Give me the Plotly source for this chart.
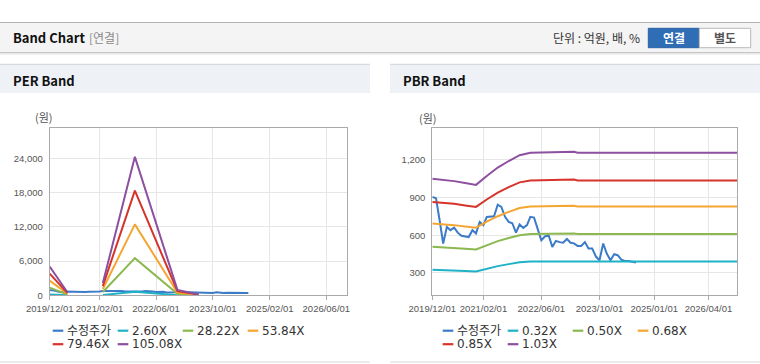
import plotly.graph_objects as go
import pandas as pd

W, H = 760, 364

# ---------------- data ----------------
price = [905, 893, 715, 534, 666, 640, 660, 620, 595, 590, 585, 640, 614, 705, 680, 745,
         746, 750, 842, 825, 746, 706, 695, 620, 685, 658, 680, 746, 740, 650, 560, 590,
         600, 507, 555, 545, 540, 570, 540, 535, 515, 515, 545, 494, 494, 430, 401, 534,
         454, 401, 449, 441, 405, 395, 395, 388, 383]
price_start = "2019-12-01"

per_dates = ["2019-12-01", "2020-05-01", "2020-10-01", "2021-03-01", "2021-12-01", "2022-12-01", "2023-06-01"]
per_names = ["2.60X", "28.22X", "53.84X", "79.46X", "105.08X"]
per_260 = [125, 13, None, 53, 600, 23, 4]
per_2822 = [1352, 141, None, 573, 6513, 254, 42]
per_5384 = [2579, 269, None, 1093, 12426, 485, 81]
per_7946 = [3806, 397, None, 1613, 18339, 715, 119]
per_10508 = [5033, 525, None, 2133, 24253, 946, 158]

pbr_dates = ["2019-12-01", "2020-03-01", "2020-06-01", "2020-09-01", "2020-12-01", "2021-03-01",
             "2021-06-01", "2021-09-01", "2021-12-01", "2022-03-01", "2022-06-01", "2022-09-01",
             "2022-10-01", "2023-03-01", "2023-04-01", "2026-11-28"]
pbr_names = ["0.32X", "0.50X", "0.68X", "0.85X", "1.03X"]
pbr_032 = [325, 323, 320, 315, 311, 333, 354, 370, 384, 390, 390, 391, 392, 392, 390, 390]
pbr_050 = [509, 505, 500, 493, 486, 520, 553, 578, 600, 609, 610, 611, 613, 613, 609, 609]
pbr_068 = [692, 687, 680, 670, 660, 707, 751, 785, 816, 828, 830, 830, 834, 834, 828, 828]
pbr_085 = [864, 859, 850, 837, 825, 884, 939, 982, 1020, 1035, 1037, 1038, 1042, 1042, 1035, 1035]
pbr_103 = [1048, 1040, 1030, 1015, 1000, 1071, 1138, 1190, 1236, 1255, 1257, 1258, 1263, 1263, 1255, 1255]

price_name = "수정주가"
x_range = ["2019-12-01", "2026-11-28"]
per_tickvals = ["2019-12-01", "2021-02-01", "2022-06-01", "2023-10-01", "2025-02-01", "2026-06-01"]
pbr_tickvals = ["2019-12-01", "2021-02-01", "2022-06-01", "2023-10-01", "2025-01-01", "2026-04-01"]
per_yticks = [0, 6000, 12000, 18000, 24000]
pbr_yticks = [300, 600, 900, 1200]

colors = ["#3b7bc8", "#1fb2c6", "#8cb850", "#f5a531", "#d6332b", "#8d4f9f"]

price_dates = pd.date_range(price_start, periods=len(price), freq="MS")

# ---------------- figure ----------------
fig = go.Figure()

def add_line(x, y, color, xa, ya, name):
    fig.add_trace(go.Scatter(x=x, y=y, mode="lines", name=name, showlegend=False,
                             line=dict(color=color, width=2), xaxis=xa, yaxis=ya,
                             connectgaps=False, hoverinfo="skip"))

per_series = [per_260, per_2822, per_5384, per_7946, per_10508]
pbr_series = [pbr_032, pbr_050, pbr_068, pbr_085, pbr_103]

add_line(price_dates, price, colors[0], "x", "y", price_name)
for i, s in enumerate(per_series):
    add_line(per_dates, s, colors[i + 1], "x", "y", per_names[i])

add_line(price_dates, price, colors[0], "x2", "y2", price_name)
for i, s in enumerate(pbr_series):
    add_line(pbr_dates, s, colors[i + 1], "x2", "y2", pbr_names[i])

def X(px):
    return px / W

def Y(py):
    return 1 - py / H

tickfont = dict(family="Liberation Sans, Arial, sans-serif", size=9.5, color="#555555")
axis_common = dict(showgrid=True, gridcolor="#e6e6e6", gridwidth=1, showline=True,
                   linecolor="#aaaaaa", linewidth=1, mirror=True, zeroline=False,
                   tickfont=tickfont, fixedrange=True, automargin=False, tickangle=0)

y_dom = [Y(295.3), Y(128.3)]
fig.update_layout(
    width=W, height=H, margin=dict(l=0, r=0, t=0, b=0, autoexpand=False),
    paper_bgcolor="white", plot_bgcolor="white", showlegend=False,
    xaxis=dict(domain=[X(49.7), X(347.3)], anchor="y", type="date", range=x_range,
               tickvals=per_tickvals, ticktext=[d.replace("-", "/") for d in per_tickvals],
               ticks="outside", ticklen=4, tickcolor="#aaaaaa", **axis_common),
    yaxis=dict(domain=y_dom, anchor="x", range=[0, 29250], tickvals=per_yticks,
               ticktext=[f"{v:,}" for v in per_yticks], ticks="outside", ticklen=4,
               tickcolor="rgba(0,0,0,0)", **axis_common),
    xaxis2=dict(domain=[X(432.3), X(737.3)], anchor="y2", type="date", range=x_range,
                tickvals=pbr_tickvals, ticktext=[d.replace("-", "/") for d in pbr_tickvals],
                ticks="outside", ticklen=4, tickcolor="#aaaaaa", **axis_common),
    yaxis2=dict(domain=y_dom, anchor="x2", range=[122, 1450], tickvals=pbr_yticks,
                ticktext=[f"{v:,}" for v in pbr_yticks], ticks="outside", ticklen=4,
                tickcolor="rgba(0,0,0,0)", **axis_common),
)

shapes = []
def rect(x0, y0, x1, y1, fill, line=None, lw=0, layer="below"):
    shapes.append(dict(type="rect", xref="paper", yref="paper", x0=X(x0), x1=X(x1),
                       y0=Y(y1), y1=Y(y0), fillcolor=fill,
                       line=dict(color=line or fill, width=lw), layer=layer))

def hline(x0, x1, y, color, lw=1, layer="below"):
    shapes.append(dict(type="line", xref="paper", yref="paper", x0=X(x0), x1=X(x1),
                       y0=Y(y), y1=Y(y), line=dict(color=color, width=lw), layer=layer))

# header bar
rect(0, 22, 760, 53, "#f4f4f4")
hline(0, 760, 22.5, "#b2b2b2", 1.2)
hline(0, 760, 52.5, "#c4c4c4", 1.2)
hline(0, 760, 53.8, "#e2e2e2", 1.2)
# buttons
rect(648.3, 28.3, 699.3, 47.7, "#2f6db5", "#2a62a5", 1, layer="above")
rect(699.3, 28.3, 750.7, 47.7, "#ffffff", "#b8b8b8", 1, layer="above")
# panel headers
for x0, x1 in [(0, 370), (390, 760)]:
    rect(x0, 64, x1, 93, "#eef2f7")
    hline(x0, x1, 64.3, "#d2d2d2", 1)
    hline(x0, x1, 362, "#d8d8d8", 1)

annotations = []
def text(x, y, s, size=12, color="#333333", xanchor="left", family="Noto Sans CJK KR, sans-serif"):
    annotations.append(dict(xref="paper", yref="paper", x=X(x), y=Y(y), text=s,
                            showarrow=False, xanchor=xanchor, yanchor="middle",
                            font=dict(family=family, size=size, color=color)))

text(11, 38, "<b>Band Chart</b>", 13, "#111111")
text(87, 38, "[연결]", 12, "#8a8a8a")
text(642, 38, "단위 : 억원, 배, %", 12, "#333333", xanchor="right")
text(673.8, 38, "<b>연결</b>", 12, "#ffffff", xanchor="center")
text(725, 38, "<b>별도</b>", 12, "#555555", xanchor="center")
text(11, 80, "<b>PER Band</b>", 13, "#111111")
text(401, 80, "<b>PBR Band</b>", 13, "#111111")
text(44, 117, "(원)", 11, "#555555", xanchor="center")
text(427.5, 118, "(원)", 11, "#555555", xanchor="center")

# manual legends
def legend(x0, names):
    for i, nm in enumerate(names):
        row, col = divmod(i, 4)
        cx = x0 + col * 65
        cy = 330.7 + row * 13.5
        shapes.append(dict(type="line", xref="paper", yref="paper", x0=X(cx), x1=X(cx + 10.6),
                           y0=Y(cy), y1=Y(cy), line=dict(color=colors[i], width=2.2), layer="above"))
        text(cx + 12.5, cy, nm, 12, "#333333",
             family="DejaVu Sans, Noto Sans CJK KR, sans-serif")

legend(52.7, [price_name] + per_names)
legend(442.7, [price_name] + pbr_names)

fig.update_layout(shapes=shapes, annotations=annotations)
fig.write_html("out.html", config={"displayModeBar": False},
               post_script="document.body.style.margin='0';document.body.style.overflow='hidden';")
